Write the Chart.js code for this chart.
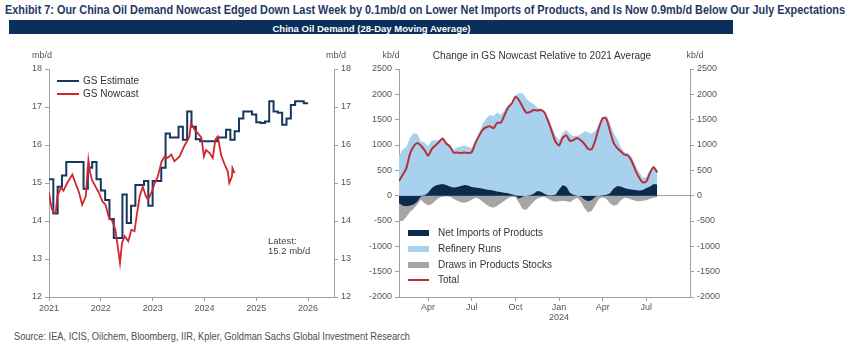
<!DOCTYPE html>
<html>
<head>
<meta charset="utf-8">
<script src="https://cdn.jsdelivr.net/npm/chart.js@4.4.1/dist/chart.umd.min.js"></script>
<style>
  body { margin: 0; width: 848px; height: 361px; background: #fff; position: relative; overflow: hidden;
         font-family: "Liberation Sans", Arial, sans-serif; }
  .abs { position: absolute; white-space: nowrap; }
  .fit { display: inline-block; transform-origin: 0 50%; }
  #title { left: 5px; top: 2px; font: bold 13px "Liberation Sans Narrow", "Liberation Sans", sans-serif; color: #1f3864; line-height: 16px; }
  #band { left: 9px; top: 20px; width: 724px; height: 14px; background: #0b2f5c; text-align: center; line-height: 14px; }
  #band span { color: #fff; font: bold 9px "Liberation Sans Narrow", "Liberation Sans", sans-serif; transform-origin: 50% 50%; }
  #source { left: 14px; top: 330px; font: 10px "Liberation Sans Narrow", "Liberation Sans", sans-serif; color: #4d4d4d; line-height: 14px; }
  .unit { font-size: 9px; color: #555; transform: translate(-50%, -50%); }
  .lg { font-size: 10px; color: #333; line-height: 12px; }
  .sw { position: absolute; }
  canvas { position: absolute; }
</style>
</head>
<body>
<div id="title" class="abs"><span class="fit">Exhibit 7: Our China Oil Demand Nowcast Edged Down Last Week by 0.1mb/d on Lower Net Imports of Products, and Is Now 0.9mb/d Below Our July Expectations</span></div>
<div id="band" class="abs"><span class="fit">China Oil Demand (28-Day Moving Average)</span></div>

<canvas id="demand" width="365" height="290" style="left:0;top:40px"></canvas>
<canvas id="change" width="375" height="290" style="left:360px;top:40px"></canvas>

<div class="abs unit" style="left:42px;top:55px">mb/d</div>
<div class="abs unit" style="left:336px;top:55px">mb/d</div>
<div class="abs unit" style="left:391px;top:55px">kb/d</div>
<div class="abs unit" style="left:695px;top:55px">kb/d</div>
<div class="abs" style="left:542px;top:55px;transform:translate(-50%,-50%);font-size:10px;color:#333">Change in GS Nowcast Relative to 2021 Average</div>

<!-- left legend -->
<div class="sw" style="left:57px;top:80px;width:22px;height:2px;background:#17375e"></div>
<div class="abs lg" style="left:83px;top:75px">GS Estimate</div>
<div class="sw" style="left:57px;top:93px;width:22px;height:2px;background:#d0262d"></div>
<div class="abs lg" style="left:83px;top:88px">GS Nowcast</div>
<div class="abs" style="left:268px;top:236px;font-size:9.5px;color:#444;line-height:10px">Latest:<br>15.2 mb/d</div>

<!-- right legend -->
<div class="sw" style="left:408px;top:230px;width:21px;height:6px;background:#0c2a4d"></div>
<div class="abs lg" style="left:438px;top:227px">Net Imports of Products</div>
<div class="sw" style="left:408px;top:246px;width:21px;height:6px;background:#a8d1ee"></div>
<div class="abs lg" style="left:438px;top:243px">Refinery Runs</div>
<div class="sw" style="left:408px;top:262px;width:21px;height:6px;background:#a5a5a5"></div>
<div class="abs lg" style="left:438px;top:259px">Draws in Products Stocks</div>
<div class="sw" style="left:408px;top:279px;width:21px;height:2px;background:#b5303a"></div>
<div class="abs lg" style="left:438px;top:274px">Total</div>

<div id="source" class="abs"><span class="fit">Source: IEA, ICIS, Oilchem, Bloomberg, IIR, Kpler, Goldman Sachs Global Investment Research</span></div>

<script>
// left panel: monthly GS estimate, Jan 2021 .. Jan 2026 (mb/d)
const gsEstimate = [15.1, 14.2, 14.9, 15.2, 15.55, 15.55, 15.55, 15.55, 14.85, 15.4, 15.55, 15.1,
  14.8, 14.55, 14.05, 13.55, 13.55, 14.7, 13.95, 14.4, 14.95, 14.95, 15.05, 14.4,
  15.05, 15.05, 15.4, 16.3, 16.2, 16.2, 16.48, 16.14, 16.88, 16.48, 16.15, 16.1,
  16.1, 16.1, 16.1, 16.2, 16.2, 16.4, 16.14, 16.36, 16.7, 16.88, 16.88, 16.8,
  16.6, 16.58, 16.62, 17.15, 16.88, 16.85, 16.53, 16.7, 17.05, 17.15, 17.15, 17.1, 17.1];

// GS nowcast (decimal year, mb/d)
const nowcastDates = [2021.00, 2021.03, 2021.06, 2021.10, 2021.13, 2021.16, 2021.23, 2021.28, 2021.35, 2021.45,
  2021.51, 2021.58, 2021.64, 2021.71, 2021.76, 2021.79, 2021.83, 2021.90, 2021.96, 2022.03,
  2022.09, 2022.15, 2022.22, 2022.28, 2022.33, 2022.37, 2022.41, 2022.46, 2022.53, 2022.59,
  2022.65, 2022.69, 2022.75, 2022.81, 2022.87, 2022.91, 2022.98, 2023.04, 2023.10, 2023.17,
  2023.23, 2023.29, 2023.36, 2023.42, 2023.52, 2023.62, 2023.68, 2023.71, 2023.74, 2023.81,
  2023.87, 2023.94, 2023.99, 2024.03, 2024.10, 2024.16, 2024.21, 2024.26, 2024.32, 2024.38,
  2024.45, 2024.48, 2024.53, 2024.54, 2024.58];
const gsNowcast = [14.75, 14.48, 14.3, 14.22, 14.2, 14.65, 14.88, 14.8, 15.0, 15.22,
  15.0, 14.75, 14.43, 14.65, 15.6, 15.3, 15.08, 14.9, 14.75, 14.52,
  14.43, 14.12, 14.0, 13.77, 13.3, 12.9, 13.43, 13.6, 13.47, 13.77,
  13.73, 14.12, 14.65, 14.9, 14.65, 14.56, 14.75, 15.0, 15.17, 15.55,
  15.7, 15.66, 15.75, 15.57, 15.7, 16.0, 16.14, 16.22, 16.57, 16.4,
  16.31, 16.2, 15.7, 15.87, 15.79, 15.66, 16.14, 16.22, 15.74, 15.52,
  15.3, 15.0, 15.17, 15.39, 15.26];

const yearTicks = [2021, 2022, 2023, 2024, 2025, 2026];

// right panel: weekly, months counted from Jan 2023 (kb/d)
const firstWeek = 1;      // Feb 2023
const weekStep = 0.25;
const netImports = [-150, -200, -210, -200, -180, -120, -20, 10, 60, 150,
  200, 220, 230, 210, 180, 160, 170, 190, 210, 200,
  170, 160, 150, 140, 120, 110, 100, 80, 70, 60,
  50, 30, 10, -60, -20, 0, 10, 40, 90, 80,
  40, 10, 10, 20, 120, 210, 180, 60, 20, 0,
  -20, -80, -110, -90, -20, 0, 10, 20, 50, 140,
  190, 180, 150, 130, 120, 110, 100, 110, 150, 180,
  230, 220];
const refineryRuns = [790, 910, 960, 1140, 1230, 1220, 1070, 1040, 920, 940,
  890, 880, 920, 830, 810, 750, 780, 780, 780, 760,
  770, 920, 1090, 1280, 1410, 1480, 1470, 1560, 1520, 1630,
  1740, 1810, 1970, 2020, 2020, 1920, 1840, 1770, 1650, 1640,
  1620, 1520, 1360, 1170, 980, 1030, 1120, 1150, 1160, 1180,
  1210, 1270, 1250, 1220, 1280, 1410, 1550, 1560, 1380, 1100,
  930, 780, 700, 710, 640, 490, 370, 250, 220, 330,
  370, 270];
const productDraws = [-350, -300, -210, -120, -80, -60, -60, -150, -190, -170,
  -100, -40, -20, -10, -20, -60, -100, -130, -140, -120,
  -80, -40, -60, -120, -180, -220, -240, -200, -150, -100,
  -50, -20, -30, -80, -250, -280, -200, -120, -60, -30,
  -20, -60, -100, -120, -110, -100, -110, -130, -80, -40,
  -100, -170, -220, -210, -160, -60, -30, -60, -150, -200,
  -180, -90, -40, -50, -80, -100, -110, -100, -90, -60,
  -40, -30];
const totalChange = [290, 410, 540, 820, 970, 1040, 990, 900, 790, 920,
  990, 1060, 1130, 1030, 970, 850, 850, 840, 850, 840,
  860, 1040, 1180, 1300, 1350, 1370, 1330, 1440, 1440, 1590,
  1740, 1820, 1950, 1880, 1750, 1640, 1650, 1690, 1680, 1690,
  1640, 1470, 1270, 1070, 990, 1140, 1190, 1080, 1100, 1140,
  1090, 1020, 920, 920, 1100, 1350, 1530, 1520, 1280, 1040,
  940, 870, 810, 790, 680, 500, 360, 260, 280, 450,
  560, 460];

const monthTickPos = [3, 6, 9, 12, 15, 18];
const monthTickLabels = ['Apr', 'Jul', 'Oct', 'Jan', 'Apr', 'Jul'];
const yearUnderJan = '2024';

const AXIS = '#a0a0a0';
const TICK_FONT = { family: 'Liberation Sans, Arial, sans-serif', size: 9 };
const TICK_COLOR = '#555';

const axisY = (min, max, step, pos, width) => ({
  position: pos, min: min, max: max,
  ticks: { stepSize: step, font: TICK_FONT, color: TICK_COLOR, padding: 3,
           callback: (v) => String(v) },
  grid: { drawOnChartArea: false, tickLength: 4, color: AXIS },
  border: { color: AXIS, width: 1 },
  afterFit: (s) => { s.width = width; }
});

// ---- left chart
const estimatePoints = gsEstimate.map((v, i) => ({ x: 2021 + i / 12, y: v }));
const nowcastPoints = gsNowcast.map((v, i) => ({ x: nowcastDates[i], y: v }));

new Chart(document.getElementById('demand'), {
  type: 'line',
  data: {
    datasets: [
      { label: 'GS Nowcast', data: nowcastPoints, borderColor: '#d0262d', borderWidth: 1.8,
        pointRadius: 0, tension: 0, order: 0 },
      { label: 'GS Estimate', data: estimatePoints, borderColor: '#17375e', borderWidth: 2,
        pointRadius: 0, stepped: true, order: 1 },
    ]
  },
  options: {
    responsive: false, animation: false, events: [],
    layout: { padding: { top: 29, left: 0, right: 0, bottom: 0 } },
    plugins: { legend: { display: false }, tooltip: { enabled: false } },
    scales: {
      x: {
        type: 'linear', min: 2021, max: 2026.5,
        afterBuildTicks: (s) => { s.ticks = yearTicks.map(v => ({ value: v })); },
        ticks: { callback: (v) => String(v), font: TICK_FONT, color: TICK_COLOR, padding: 2,
                 maxRotation: 0, autoSkip: false },
        grid: { drawOnChartArea: false, tickLength: 4, color: AXIS },
        border: { color: AXIS, width: 1 },
        afterFit: (s) => { s.height = 33; }
      },
      y: axisY(12, 18, 1, 'left', 49),
      y2: axisY(12, 18, 1, 'right', 31)
    }
  }
});

// ---- right chart
const weekPos = totalChange.map((_, i) => firstWeek + i * weekStep);
const pts = (arr) => arr.map((v, i) => ({ x: weekPos[i], y: v }));
const importsUp = netImports.map(v => Math.max(v, 0));
const importsDown = netImports.map(v => Math.min(v, 0));
const drawsUp = productDraws.map(v => Math.max(v, 0));
const drawsDown = productDraws.map(v => Math.min(v, 0));
const NONE = 'rgba(0,0,0,0)';
const area = (label, data, color, stack, fill) => ({
  label, data: pts(data), backgroundColor: color, borderColor: NONE, borderWidth: 0,
  pointRadius: 0, tension: 0, stack, fill, order: 1
});

new Chart(document.getElementById('change'), {
  type: 'line',
  data: {
    datasets: [
      { label: 'Total', data: pts(totalChange), borderColor: '#b5303a', borderWidth: 2,
        pointRadius: 0, tension: 0.2, fill: false, stack: 'total', order: 0 },
      area('Net Imports of Products', importsUp, '#0c2a4d', 'pos', 'origin'),
      area('Refinery Runs', refineryRuns, '#a8d1ee', 'pos', '-1'),
      area('Draws in Products Stocks', drawsUp, '#a5a5a5', 'pos', '-1'),
      area('Net Imports of Products', importsDown, '#0c2a4d', 'neg', 'origin'),
      area('Draws in Products Stocks', drawsDown, '#a5a5a5', 'neg', '-1'),
    ]
  },
  options: {
    responsive: false, animation: false, events: [],
    layout: { padding: { top: 29, left: 0, right: 0, bottom: 0 } },
    plugins: { legend: { display: false }, tooltip: { enabled: false } },
    scales: {
      x: {
        type: 'linear', min: 1, max: 21,
        afterBuildTicks: (s) => { s.ticks = monthTickPos.map(v => ({ value: v })); },
        ticks: {
          callback: (v) => {
            const i = monthTickPos.indexOf(v);
            const lab = monthTickLabels[i];
            return v === 12 ? [lab, yearUnderJan] : lab;
          },
          font: { ...TICK_FONT, lineHeight: 1.1 }, color: TICK_COLOR, padding: 2,
          maxRotation: 0, autoSkip: false
        },
        grid: { drawOnChartArea: false, tickLength: 4, color: AXIS },
        border: { color: AXIS, width: 1 },
        afterFit: (s) => { s.height = 33; }
      },
      y: {
        ...axisY(-2000, 2500, 500, 'left', 39),
        stacked: true,
        grid: {
          drawOnChartArea: true, tickLength: 4, tickColor: AXIS,
          color: (c) => (c.tick && c.tick.value === 0 ? AXIS : NONE)
        }
      },
      y2: axisY(-2000, 2500, 500, 'right', 45)
    }
  }
});

// squeeze headline texts to the reference widths
function fitWidth(sel, target) {
  const el = document.querySelector(sel);
  const w = el.getBoundingClientRect().width;
  el.style.transform = 'scaleX(' + (target / w) + ')';
}
fitWidth('#title .fit', 840);
fitWidth('#band .fit', 198);
fitWidth('#source .fit', 396);
</script>
</body>
</html>
